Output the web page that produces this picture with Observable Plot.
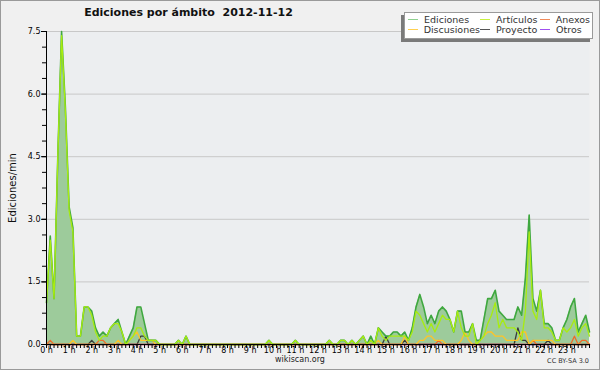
<!DOCTYPE html>
<html>
<head>
<meta charset="utf-8">
<script src="https://cdn.jsdelivr.net/npm/d3@7"></script>
<script src="https://cdn.jsdelivr.net/npm/@observablehq/plot@0.6"></script>
<style>
  body { margin: 0; background: #fff; font-family: "DejaVu Sans", sans-serif; }
  #wrap { position: relative; width: 600px; height: 370px; background: #f0f0f0; overflow: hidden; }
  #chart { position: absolute; left: 0; top: 0; }
  #title { position: absolute; left: 0; width: 377px; top: 6px; text-align: center; font-weight: bold; font-size: 11px; color: #111; white-space: pre; }
  #ylabel { position: absolute; left: 12px; top: 188px; transform: translate(-50%, -50%) rotate(-90deg); font-size: 10px; color: #111; white-space: nowrap; }
  #footer { position: absolute; left: 0; width: 600px; top: 355px; text-align: center; font-size: 8px; color: #222; }
  #cc { position: absolute; right: 11px; top: 357px; font-size: 6.5px; color: #333; }
  #legend { position: absolute; left: 404px; top: 12px; width: 189px; height: 27px; box-sizing: border-box; background: #fff; border: 1px solid #9a9a9a; box-shadow: -3px 3px 0 #7a7a7a; padding: 1px 0 0 3px; display: grid; grid-template-columns: 72px 60px 50px; grid-auto-rows: 10.5px; font-size: 9.5px; color: #333; }
  .item { display: flex; align-items: center; white-space: nowrap; }
  .sw { display: inline-block; width: 10px; height: 1px; margin-right: 6px; }
  #border { position: absolute; left: 0; top: 0; width: 600px; height: 370px; box-sizing: border-box; border: 1px solid #9a9a9a; pointer-events: none; }
</style>
</head>
<body>
<div id="wrap">
  <div id="chart"></div>
  <div id="title"></div>
  <div id="ylabel"></div>
  <div id="legend"></div>
  <div id="footer"></div>
  <div id="cc"></div>
  <div id="border"></div>
</div>
<script>
// ---- Texts ----
const titleText = "Ediciones por ámbito  2012-11-12";
const yLabelText = "Ediciones/min";
const footerText = "wikiscan.org";
const licenseText = "CC BY-SA 3.0";

// ---- Axis ticks ----
const hourTicks = [0,1,2,3,4,5,6,7,8,9,10,11,12,13,14,15,16,17,18,19,20,21,22,23];
const yTicks = [0, 1.5, 3.0, 4.5, 6.0, 7.5];

// ---- Series (edits/min, one value per 10 minutes; one row per hour) ----
const ediciones = [
  1.0,2.6,1.1,4.5,7.5,5.7,
  3.3,2.8,0.2,0.2,0.9,0.9,
  0.8,0.4,0.2,0.3,0.2,0.4,
  0.5,0.6,0.3,0.0,0.2,0.4,
  0.9,0.9,0.5,0.1,0.1,0.1,
  0,0,0,0,0,0.1,
  0,0.2,0,0,0,0,
  0,0,0,0,0,0,
  0,0,0,0,0,0,
  0,0,0,0,0,0.1,
  0,0,0,0,0,0,
  0.1,0,0,0,0,0,
  0,0,0,0.1,0,0,
  0.1,0.1,0,0.1,0,0.1,
  0.2,0.0,0.2,0.0,0.4,0.3,
  0.2,0.2,0.3,0.3,0.2,0.3,
  0.1,0.4,0.9,1.2,0.9,0.5,
  0.7,0.5,0.8,0.9,0.8,0.6,
  0.3,0.8,0.8,0.3,0.3,0.5,
  0.1,0.1,0.6,1.1,1.1,1.3,
  0.8,0.7,0.6,0.6,0.6,0.9,
  0.7,1.6,3.1,1.1,0.8,1.3,
  0.5,0.5,0.4,0.1,0.1,0.4,
  0.6,0.9,1.1,0.3,0.5,0.7,
  0.3
];
const articulos = [
  1.0,2.5,1.1,4.5,7.4,5.6,
  3.2,2.7,0.2,0.2,0.9,0.9,
  0.7,0.3,0.1,0.2,0.2,0.4,
  0.5,0.5,0.3,0.0,0.1,0.2,
  0.4,0.4,0.2,0.1,0.1,0.1,
  0,0,0,0,0,0.1,
  0,0.2,0,0,0,0,
  0,0,0,0,0,0,
  0,0,0,0,0,0,
  0,0,0,0,0,0.1,
  0,0,0,0,0,0,
  0.1,0,0,0,0,0,
  0,0,0,0.1,0,0,
  0.1,0.1,0,0.1,0,0.1,
  0.2,0,0.1,0,0.4,0.2,
  0.1,0.2,0.2,0.2,0.2,0.2,
  0.1,0.3,0.8,0.7,0.5,0.3,
  0.5,0.3,0.5,0.7,0.6,0.6,
  0.3,0.8,0.4,0.2,0.2,0.5,
  0.0,0.1,0.2,0.5,0.7,1.0,
  0.4,0.6,0.4,0.4,0.4,0.3,
  0.1,0.8,2.7,0.8,0.6,1.3,
  0.4,0.4,0.3,0.1,0.1,0.4,
  0.3,0.4,0.6,0.2,0.4,0.5,
  0.2
];
const anexos = [
  0,0.1,0,0,0,0,
  0,0,0,0,0,0,
  0,0,0.1,0.1,0,0,
  0,0,0,0,0,0,
  0,0,0,0,0,0,
  0,0,0,0,0,0,
  0,0,0,0,0,0,
  0,0,0,0,0,0,
  0,0,0,0,0,0,
  0,0,0,0,0,0,
  0,0,0,0,0,0,
  0,0,0,0,0,0,
  0,0,0,0,0,0,
  0,0,0,0,0,0,
  0,0,0,0,0,0,
  0,0,0,0,0,0,
  0,0,0,0,0,0,
  0,0,0.1,0,0,0,
  0,0,0,0,0,0,
  0,0,0,0,0,0,
  0,0,0,0,0,0,
  0,0,0,0.1,0,0,
  0,0,0,0,0,0,
  0,0,0.2,0,0.1,0.1,
  0
];
const discusiones = [
  0,0,0,0,0,0,
  0,0.1,0,0,0,0,
  0,0,0,0,0,0,
  0,0.1,0,0,0.1,0.2,
  0.3,0.1,0.1,0.1,0.1,0,
  0,0,0,0,0,0,
  0,0,0,0,0,0,
  0,0,0,0,0,0,
  0,0,0,0,0,0,
  0,0,0,0,0,0,
  0,0,0,0,0,0,
  0,0,0,0,0,0,
  0,0,0,0,0,0,
  0,0,0,0,0,0,
  0,0,0,0,0.1,0,
  0,0,0,0,0,0.2,
  0,0,0,0.1,0.1,0.2,
  0.2,0.1,0.1,0.1,0,0,
  0,0,0.1,0.3,0.1,0,
  0,0.1,0.2,0.3,0.3,0.2,
  0.2,0.2,0.1,0.1,0.1,0.1,
  0.3,0.3,0,0.1,0.1,0.1,
  0.1,0.1,0.1,0,0,0,
  0,0,0,0,0,0,
  0
];
const proyecto = [
  0,0,0,0,0,0,
  0,0,0,0,0,0,
  0.1,0,0,0,0,0,
  0,0,0,0,0,0,
  0,0.2,0.2,0,0,0,
  0,0,0,0,0,0,
  0,0,0,0,0,0,
  0,0,0,0,0,0,
  0,0,0,0,0,0,
  0,0,0,0,0,0,
  0,0,0,0,0,0,
  0,0,0,0,0,0,
  0,0,0,0,0,0,
  0,0,0,0,0,0,
  0,0,0,0,0,0,
  0.2,0,0,0,0,0.1,
  0,0,0,0,0,0,
  0,0,0,0,0,0,
  0,0,0,0,0,0,
  0,0,0,0,0,0,
  0,0,0,0,0,0.4,
  0.1,0.1,0,0,0,0,
  0,0.1,0,0,0,0,
  0,0,0,0,0,0,
  0
];
const otros = [
  0,0,0,0,0,0, 0,0,0,0,0,0, 0,0,0,0,0,0, 0,0,0,0,0,0,
  0,0,0,0,0,0, 0,0,0,0,0,0, 0,0,0,0,0,0, 0,0,0,0,0,0,
  0,0,0,0,0,0, 0,0,0,0,0,0, 0,0,0,0,0,0, 0,0,0,0,0,0,
  0,0,0,0,0,0, 0,0,0,0,0,0, 0,0,0,0,0,0, 0,0,0,0,0,0,
  0,0,0,0,0,0, 0,0,0,0,0,0, 0,0,0,0,0,0, 0,0,0,0,0,0,
  0,0,0,0,0,0, 0,0,0,0,0,0, 0,0,0,0,0,0, 0,0,0,0,0,0,
  0
];

// ---- Series names & colours ----
const seriesNames  = ["Ediciones", "Artículos", "Anexos", "Discusiones", "Proyecto", "Otros"];
const seriesColors = ["#3fa83f", "#a8ec10", "#f06a2a", "#ffc426", "#3a3a3a", "#9a40f0"];
const legendColors = ["#8fd08f", "#c8f040", "#f08a5a", "#ffd050", "#555555", "#a050f0"];
const seriesValues = [ediciones, articulos, anexos, discusiones, proyecto, otros];
const legendOrder = ["Ediciones", "Artículos", "Anexos", "Discusiones", "Proyecto", "Otros"];
const areaFill = "#9dcb9b";

// ---- Build tables ----
const stepsPerHour = 6;
const table = seriesNames.flatMap((name, s) =>
  seriesValues[s].map((v, i) => ({series: name, t: i / stepsPerHour, v}))
);
const areaRows = table.filter(d => d.series === "Ediciones");
const drawOrder = ["Otros", "Proyecto", "Anexos", "Discusiones", "Ediciones", "Artículos"];
const lineMarks = drawOrder.map(name => {
  const s = seriesNames.indexOf(name);
  return Plot.lineY(table.filter(d => d.series === name), {
    x: "t", y: "v", stroke: seriesColors[s],
    strokeWidth: name === "Ediciones" ? 1.6 : 1.3, curve: "linear"
  });
});

const minorX = d3.range(0, 24 + 1e-9, 1 / stepsPerHour);
const minorY = d3.range(0, 7.5 + 1e-9, 0.375);

const chart = Plot.plot({
  width: 600,
  height: 370,
  marginLeft: 46,
  marginRight: 11,
  marginTop: 31,
  marginBottom: 26,
  style: {background: "transparent", fontFamily: "DejaVu Sans, sans-serif", fontSize: "8px", color: "#000"},
  x: {domain: [0, 24], axis: null},
  y: {domain: [0, 7.5], axis: null},
  marks: [
    Plot.frame({fill: "#eceef0", stroke: null}),
    Plot.gridY(yTicks.slice(1), {stroke: "#c8c8c8", strokeOpacity: 1}),
    Plot.areaY(areaRows, {x: "t", y: "v", fill: areaFill}),
    ...lineMarks,
    Plot.axisY(minorY, {tickSize: 4, tickFormat: () => "", label: null}),
    Plot.axisY(yTicks, {tickSize: 5, tickPadding: 1, tickFormat: d => d.toFixed(1), label: null}),
    Plot.axisX(minorX, {tickSize: 4, tickFormat: () => "", label: null}),
    Plot.axisX(hourTicks, {tickSize: 4, tickPadding: -1, tickFormat: d => `${d} h`, label: null}),
    Plot.ruleY([0], {stroke: "#000"}),
    Plot.ruleX([0], {stroke: "#000"})
  ]
});
document.getElementById("chart").appendChild(chart);

document.getElementById("title").textContent = titleText;
document.getElementById("ylabel").textContent = yLabelText;
document.getElementById("footer").textContent = footerText;
document.getElementById("cc").textContent = licenseText;

const legend = document.getElementById("legend");
for (const name of legendOrder) {
  const s = seriesNames.indexOf(name);
  const item = document.createElement("div");
  item.className = "item";
  const sw = document.createElement("span");
  sw.className = "sw";
  sw.style.background = legendColors[s];
  const label = document.createElement("span");
  label.textContent = name;
  item.append(sw, label);
  legend.appendChild(item);
}
</script>
</body>
</html>
